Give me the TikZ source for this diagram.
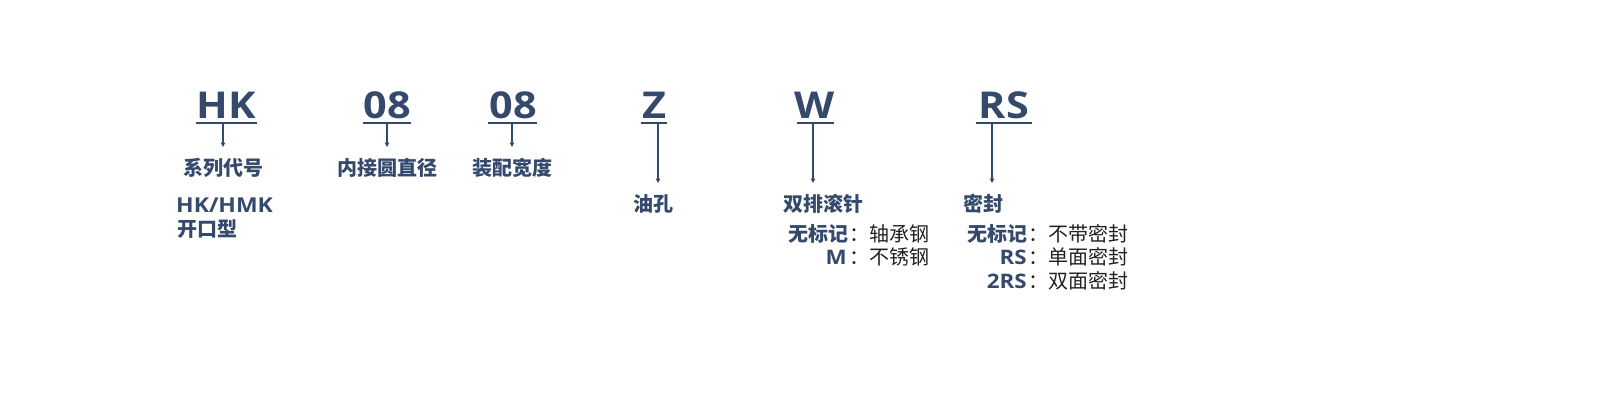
\documentclass[tikz,border=0pt]{standalone}
\usepackage{fontspec}
\usetikzlibrary{arrows.meta}
\setmainfont{Open Sans}
\newfontfamily\cjk{Noto Sans CJK SC}
\newfontfamily\bigfont{Open Sans}[FakeStretch=1.12]
\definecolor{navy}{HTML}{34496B}
\definecolor{inkc}{HTML}{231F20}
\tikzset{
  code/.style={font=\bigfont\bfseries\fontsize{37}{37}\selectfont, text=navy, inner sep=0pt, anchor=base},
  uline/.style={draw=navy, line width=2pt},
  ptr/.style={draw=navy, line width=1.3pt, -{Triangle[width=4.5pt,length=4.5pt]}},
  head/.style={font=\cjk\bfseries\fontsize{20}{20}\selectfont, text=navy, inner sep=0pt, anchor=base},
  lat/.style={font=\bigfont\bfseries\fontsize{20.5}{20.5}\selectfont, text=navy, inner sep=0pt, anchor=base west},
  keyc/.style={font=\cjk\bfseries\fontsize{20}{20}\selectfont, text=navy, inner sep=0pt, anchor=base east},
  keyl/.style={font=\bigfont\bfseries\fontsize{20}{20}\selectfont, text=navy, inner sep=0pt, anchor=base east},
  val/.style={font=\cjk\fontsize{20}{20}\selectfont, text=inkc, inner sep=0pt, anchor=base west},
}
\begin{document}
\begin{tikzpicture}[x=1pt,y=-1pt]
\useasboundingbox (0,0) rectangle (1600,400);
% codes
\node[code] (cHK) at (226,118) {HK};
\node[code] (cD) at (387,118) {08};
\node[code] (cW) at (513,118) {08};
\node[code] (cZ) at (654,118) {Z};
\node[code] (cRow) at (815,118) {W};
\node[code] (cRS) at (1004,118) {RS};
% underlines
\coordinate (u1a) at (196,123); \coordinate (u1b) at (257,123);
\coordinate (u2a) at (363,123); \coordinate (u2b) at (411,123);
\coordinate (u3a) at (488,123); \coordinate (u3b) at (537,123);
\coordinate (u4a) at (641,123); \coordinate (u4b) at (667,123);
\coordinate (u5a) at (797,123); \coordinate (u5b) at (834,123);
\coordinate (u6a) at (976,123); \coordinate (u6b) at (1032,123);
\draw[uline] (u1a) -- (u1b);
\draw[uline] (u2a) -- (u2b);
\draw[uline] (u3a) -- (u3b);
\draw[uline] (u4a) -- (u4b);
\draw[uline] (u5a) -- (u5b);
\draw[uline] (u6a) -- (u6b);
% arrows
\coordinate (a1s) at (223,123); \coordinate (a1e) at (223,147);
\coordinate (a2s) at (387,123); \coordinate (a2e) at (387,147);
\coordinate (a3s) at (512,123); \coordinate (a3e) at (512,147);
\coordinate (a4s) at (658,123); \coordinate (a4e) at (658,183);
\coordinate (a5s) at (813,123); \coordinate (a5e) at (813,183);
\coordinate (a6s) at (992,123); \coordinate (a6e) at (992,183);
\draw[ptr] (a1s) -- (a1e);
\draw[ptr] (a2s) -- (a2e);
\draw[ptr] (a3s) -- (a3e);
\draw[ptr] (a4s) -- (a4e);
\draw[ptr] (a5s) -- (a5e);
\draw[ptr] (a6s) -- (a6e);
% headings
\node[head] (hSeries) at (223,175.5) {系列代号};
\node[head] (hBore) at (387,175.5) {内接圆直径};
\node[head] (hWidth) at (512,175.5) {装配宽度};
\node[head] (hOil) at (653,211) {油孔};
\node[head, anchor=base west] (hRow) at (783,211) {双排滚针};
\node[head, anchor=base west] (hSeal) at (963,211) {密封};
\node[lat] (hkhmk) at (176,212) {HK/HMK};
\node[head, anchor=base west] (open) at (177,236.5) {开口型};
% W options
\node[keyc] (w1k) at (849,241) {无标记};
\node[val] (w1v) at (849,241) {：轴承钢};
\node[keyl] (w2k) at (847,264.5) {M};
\node[val] (w2v) at (849,264.5) {：不锈钢};
% RS options
\node[keyc] (s1k) at (1028,241) {无标记};
\node[val] (s1v) at (1028,241) {：不带密封};
\node[keyl] (s2k) at (1027,264.5) {RS};
\node[val] (s2v) at (1028,264.5) {：单面密封};
\node[keyl] (s3k) at (1027,288) {2RS};
\node[val] (s3v) at (1028,288) {：双面密封};
\end{tikzpicture}
\end{document}
